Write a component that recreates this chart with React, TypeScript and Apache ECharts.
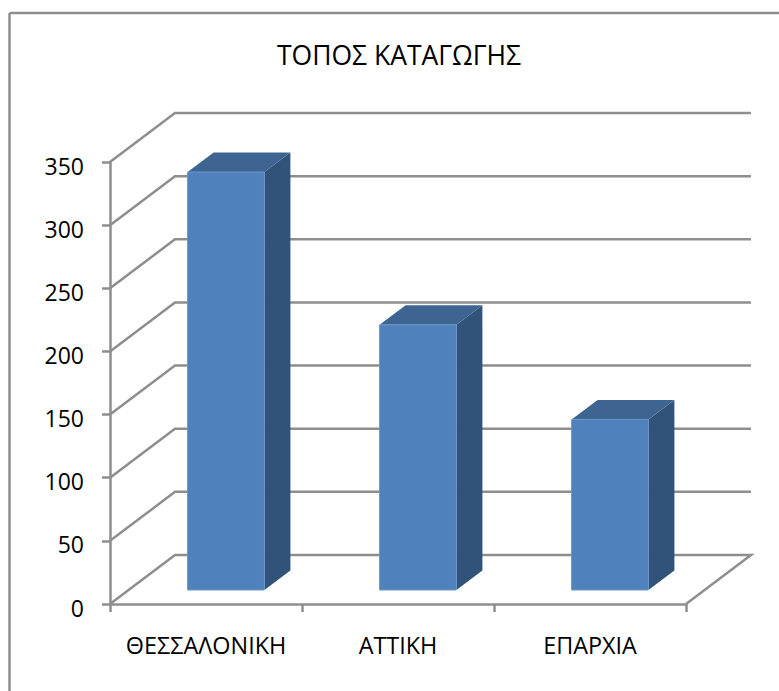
import React, { useEffect, useRef } from "react";
import * as echarts from "echarts";

const categories = ["ΘΕΣΣΑΛΟΝΙΚΗ", "ΑΤΤΙΚΗ", "ΕΠΑΡΧΙΑ"];
const values = [331, 210, 135];
const gridValues = [0, 50, 100, 150, 200, 250, 300, 350];
const titleText = "ΤΟΠΟΣ ΚΑΤΑΓΩΓΗΣ";

const FONT = "'Open Sans', 'Noto Sans', sans-serif";
const GRID_COLOR = "#8e8e8e";
const WALL_DX = 65;
const WALL_DY = -49;
const BAR_OFFSET_X = 19;
const BAR_OFFSET_Y = -14;
const BAR_DX = 26;
const BAR_DY = -19.5;

export default function App() {
  const ref = useRef<HTMLDivElement>(null);
  useEffect(() => {
    const chart = echarts.init(ref.current!, undefined, { renderer: "svg" });
    chart.setOption({
      animation: false,
      backgroundColor: "#ffffff",
      title: {
        text: titleText,
        left: 394,
        top: 36,
        textAlign: "center",
        textStyle: { fontFamily: FONT, fontSize: 26.5, fontWeight: "normal", color: "#000000" },
      },
      graphic: [
        { type: "line", shape: { x1: 9.5, y1: 13, x2: 779, y2: 13 }, style: { stroke: GRID_COLOR, lineWidth: 2.5 } },
        { type: "line", shape: { x1: 9.5, y1: 13, x2: 9.5, y2: 691 }, style: { stroke: GRID_COLOR, lineWidth: 2.5 } },
      ],
      grid: { left: 110, right: 93, top: 162, bottom: 87 },
      xAxis: {
        type: "category",
        data: categories,
        axisLine: { lineStyle: { color: GRID_COLOR, width: 2.5 } },
        axisTick: { show: true, interval: 0, alignWithLabel: false, length: 8, lineStyle: { color: GRID_COLOR, width: 2.5 } },
        axisLabel: { interval: 0, hideOverlap: false, color: "#000000", fontFamily: FONT, fontSize: 23.4, margin: 29 },
      },
      yAxis: {
        type: "value",
        min: 0,
        max: 350,
        interval: 50,
        splitLine: { show: false },
        axisLine: { show: true, lineStyle: { color: GRID_COLOR, width: 2.5 } },
        axisTick: { show: true, length: 8, lineStyle: { color: GRID_COLOR, width: 2.5 } },
        axisLabel: { color: "#000000", fontFamily: FONT, fontSize: 23, margin: 26, verticalAlign: "top", lineHeight: 7 },
      },
      series: [
        {
          type: "custom",
          silent: true,
          z: 1,
          clip: false,
          data: gridValues.map((v) => [0, v]),
          renderItem: (params: any, api: any) => {
            const cs = params.coordSys;
            const v = api.value(1);
            const y = api.coord([0, v])[1];
            const x0 = cs.x;
            const x1 = cs.x + cs.width;
            const points: number[][] = [
              [x0, y],
              [x0 + WALL_DX, y + WALL_DY],
              [x1 + WALL_DX, y + WALL_DY],
            ];
            if (v === 0) points.push([x1, y]);
            return {
              type: "polyline",
              shape: { points },
              style: { stroke: GRID_COLOR, lineWidth: 2.5, fill: "none" },
            };
          },
        },
        {
          type: "custom",
          silent: true,
          z: 2,
          clip: false,
          data: values.map((v, i) => [i, v]),
          renderItem: (_params: any, api: any) => {
            const i = api.value(0);
            const top = api.coord([i, api.value(1)]);
            const base = api.coord([i, 0]);
            const w = api.size([1, 0])[0] * 0.4;
            const l = top[0] + BAR_OFFSET_X - w / 2 + 1;
            const r = l + w;
            const t = top[1] + BAR_OFFSET_Y;
            const b = base[1] + BAR_OFFSET_Y;
            return {
              type: "group",
              children: [
                {
                  type: "polygon",
                  shape: { points: [[r, t], [r + BAR_DX, t + BAR_DY], [r + BAR_DX, b + BAR_DY], [r, b]] },
                  style: { fill: "#315379" },
                },
                {
                  type: "polygon",
                  shape: { points: [[l, t], [l + BAR_DX, t + BAR_DY], [r + BAR_DX, t + BAR_DY], [r, t]] },
                  style: { fill: "#3e6491" },
                },
                {
                  type: "rect",
                  shape: { x: l, y: t, width: w, height: b - t },
                  style: { fill: "#4f81bd", stroke: "#6d97cb", lineWidth: 1 },
                },
              ],
            };
          },
        },
      ],
    });
    return () => chart.dispose();
  }, []);
  return <div ref={ref} style={{ position: "fixed", left: 0, top: 0, width: 779, height: 691 }} />;
}
